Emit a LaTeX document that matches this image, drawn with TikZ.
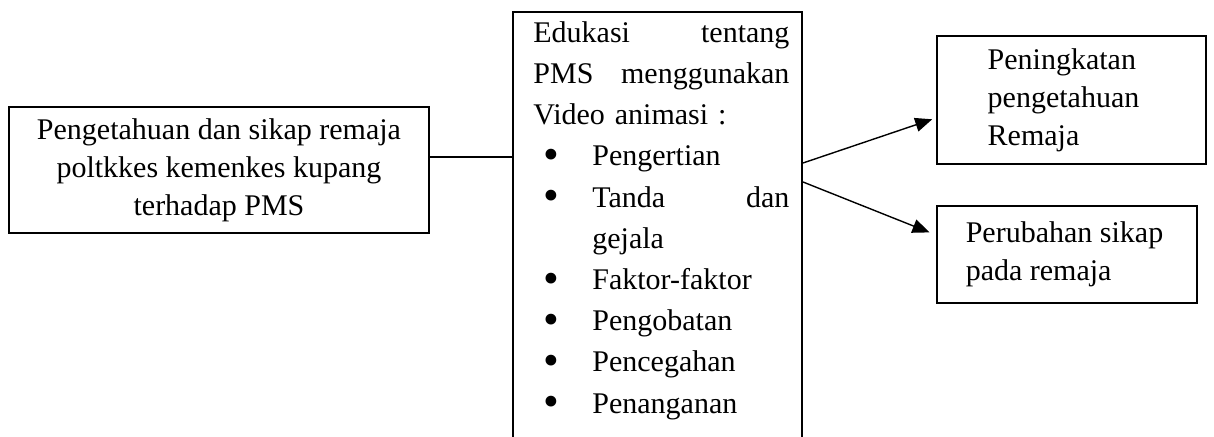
\documentclass[tikz,border=0pt]{standalone}
\usepackage{fontspec}
\setmainfont{Liberation Serif}
\usepackage{tikz}
\usetikzlibrary{arrows.meta}

\newcommand{\butir}[1]{\hspace*{5pt}\makebox[24.5pt][l]{\raisebox{-0.12em}{\scalebox{1.5}{\textbullet}}}#1}

\begin{document}
\begin{tikzpicture}
			[x=0.5pt,y=-0.5pt,line cap=round,
			%Styles
			kotak/.style={rectangle,draw,line width=1pt,inner sep=0pt},
			isi/.style={font=\fontsize{15}{19}\selectfont},
			panah/.style={-{Triangle[length=8.5pt,width=7pt]},line width=0.7pt}
			]
			
			\useasboundingbox (0,0) rectangle (1214,437);
			
			%The graphic
			\node[kotak,isi,align=center,minimum width=210pt,minimum height=63pt] (awal) at (219,170)
				{Pengetahuan dan sikap remaja\\poltkkes kemenkes kupang\\terhadap PMS};
			\node[kotak,anchor=north west,minimum width=144.5pt,minimum height=225pt] (edu) at (512,11) {};
			\node[anchor=north west,inner sep=0pt,text width=128pt,align=left,
				font=\fontsize{15}{20.6}\selectfont] (materi) at (533,21)
				{Edukasi \hfill tentang\\
				PMS \hfill menggunakan\\
				Video animasi :\\
				\butir{Pengertian}\\
				\butir{Tanda \hfill dan}\\
				\hspace*{29.5pt}gejala\\
				\butir{Faktor-faktor}\\
				\butir{Pengobatan}\\
				\butir{Pencegahan}\\
				\butir{Penanganan}};
			\node[kotak,isi,align=left,minimum width=134.5pt,minimum height=64pt] (hasil1) at (1071.5,100)
				{Peningkatan\\pengetahuan\hspace*{8pt}\mbox{}\\Remaja};
			\node[kotak,isi,align=left,minimum width=130pt,minimum height=48.5pt] (hasil2) at (1067,254.5)
				{Perubahan sikap\hspace*{2.5pt}\mbox{}\\pada remaja};
			
			\draw[line width=1pt] ([yshift=6.5pt]awal.east) -- ([yshift=6.5pt]awal.east -| edu.west);
			\draw[panah,shorten >=2pt] ([yshift=-76pt]edu.north east) -- ([yshift=-9pt]hasil1.west);
			\draw[panah,shorten >=3.5pt] ([yshift=-85.5pt]edu.north east) -- ([yshift=9.75pt]hasil2.west);
		\end{tikzpicture}
\end{document}
